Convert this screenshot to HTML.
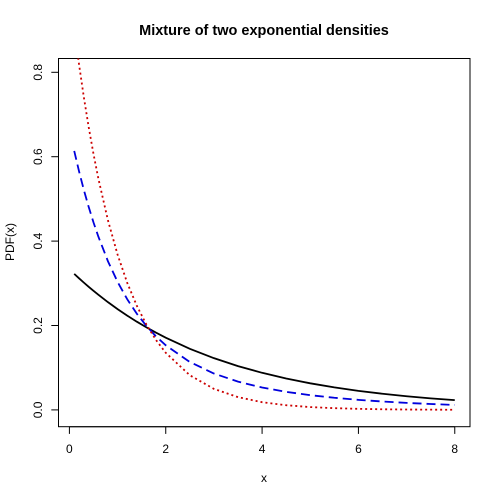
<!DOCTYPE html>
<html><head><meta charset="utf-8"><style>body{margin:0;background:#fff}svg{display:block;font-family:"Liberation Sans",Arial,sans-serif}</style></head>
<body>
<svg id="chart" width="500" height="500">
<defs><clipPath id="pc"><rect x="58.5" y="58.5" width="411.5" height="368.2"/></clipPath></defs>
<text x="264" y="35" text-anchor="middle" font-size="14.5" font-weight="bold">Mixture of two exponential densities</text>
<rect x="58.5" y="58.5" width="411.5" height="368.2" fill="none" stroke="#000" stroke-width="1"/>
<g id="axes"></g>
<g id="series" clip-path="url(#pc)"></g>
<text x="264" y="482" text-anchor="middle" font-size="12">x</text>
<text transform="translate(14,242) rotate(-90)" text-anchor="middle" font-size="12">PDF(x)</text>
</svg>
<script>
const xs = [0.1,0.2,0.3,0.4,0.5,0.6,0.8,1.0,1.2,1.4,1.6,1.8,2.0,2.5,3,3.5,4,4.5,5,5.5,6,6.5,7,7.5,8];
const blackVals = [0.3224,0.3118,0.3016,0.2917,0.2821,0.2729,0.2553,0.2388,0.2234,0.2090,0.1955,0.1829,0.1711,0.1448,0.1226,0.1038,0.0879,0.0744,0.0630,0.0533,0.0451,0.0382,0.0323,0.0274,0.0232];
const blueVals = [0.6136,0.5653,0.5212,0.4810,0.4443,0.4109,0.3523,0.3034,0.2623,0.2278,0.1987,0.1741,0.1532,0.1135,0.0862,0.0670,0.0531,0.0428,0.0349,0.0287,0.0238,0.0199,0.0166,0.0140,0.0118];
const redVals = [0.9048,0.8187,0.7408,0.6703,0.6065,0.5488,0.4493,0.3679,0.3012,0.2466,0.2019,0.1653,0.1353,0.0821,0.0498,0.0302,0.0183,0.0111,0.0067,0.0041,0.0025,0.0015,0.0009,0.0006,0.0003];
const xTicks = [0,2,4,6,8];
const yTicks = [0.0,0.2,0.4,0.6,0.8];
const yTickLabels = ["0.0","0.2","0.4","0.6","0.8"];

const NS="http://www.w3.org/2000/svg";
const X = v => 59 + (v + 0.216) * 48.17;
const Y = v => 409.9 - v * 422;
const axes=document.getElementById('axes'), series=document.getElementById('series');
function mk(tag, attrs, parent){const e=document.createElementNS(NS,tag);for(const k in attrs)e.setAttribute(k,attrs[k]);parent.appendChild(e);return e;}

mk('line',{x1:X(xTicks[0]),x2:X(xTicks[xTicks.length-1]),y1:426.7,y2:426.7,stroke:'#000'},axes);
xTicks.forEach(t=>{
  const l=mk('line',{x1:X(t),x2:X(t),y1:426.7,y2:433.9,stroke:'#000'},axes);
  
  
  const tx=mk('text',{x:X(t),y:453,'text-anchor':'middle','font-size':12},axes);
  tx.textContent=t;
  
  
});
yTicks.forEach((t,i)=>{
  const l=mk('line',{x1:51.3,x2:58.5,y1:Y(t),y2:Y(t),stroke:'#000'},axes);
  
  
  const tx=mk('text',{transform:`translate(42,${Y(t)}) rotate(-90)`,'text-anchor':'middle','font-size':12},axes);
  tx.textContent=yTickLabels[i];
  
  
});
mk('line',{x1:58.5,x2:58.5,y1:Y(yTicks[0]),y2:Y(yTicks[yTicks.length-1]),stroke:'#000'},axes);

function line(vals,color,dash,width,name){
  const p=mk('polyline',{points:xs.map((x,i)=>X(x)+','+Y(vals[i])).join(' '),fill:'none',stroke:color,'stroke-width':width,'stroke-dasharray':dash},series);
  
  
}
line(blackVals,'#000','none',1.8,'mixture-density-line');
line(blueVals,'#0000dd','9 5',1.8,'blue-density-line');
line(redVals,'#cc0000','2 3',1.8,'red-density-line');
</script>
</body></html>
